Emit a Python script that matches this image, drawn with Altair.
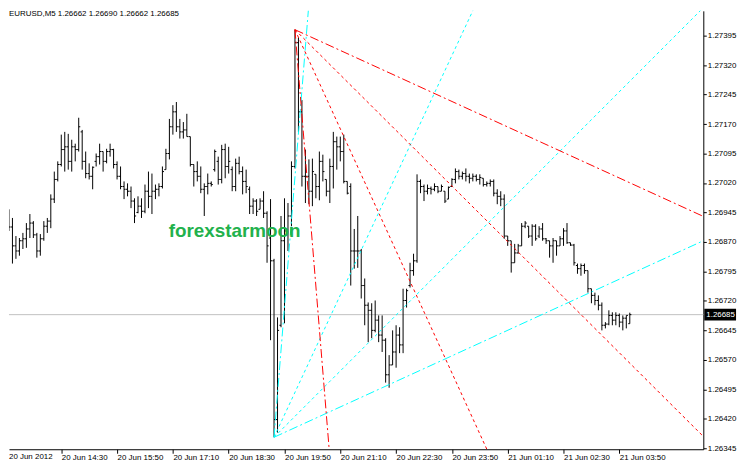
import altair as alt
import pandas as pd

FONT = "Liberation Sans"

# ---- OHLC bars (M5), first bar 20 Jun 13:10 ----
opens = [1.26910, 1.26943, 1.26908, 1.26860, 1.26847, 1.26873, 1.26878, 1.26903, 1.26918, 1.26888,
         1.26847, 1.26878, 1.26910, 1.26923, 1.26979, 1.27029, 1.27067, 1.27105, 1.27112, 1.27075,
         1.27112, 1.27105, 1.27150, 1.27075, 1.27044, 1.27037, 1.27075, 1.27087, 1.27100, 1.27075,
         1.27100, 1.27105, 1.27067, 1.27037, 1.27011, 1.27004, 1.26999, 1.26974, 1.26945, 1.26961,
         1.26948, 1.26999, 1.26986, 1.26999, 1.27004, 1.27011, 1.27054, 1.27095, 1.27163, 1.27201,
         1.27163, 1.27150, 1.27155, 1.27138, 1.27067, 1.27049, 1.27037, 1.27004, 1.27011, 1.27019,
         1.27054, 1.27075, 1.27029, 1.27105, 1.27062, 1.27054, 1.27011, 1.27070, 1.27049, 1.27024,
         1.27004, 1.26961, 1.26974, 1.26953, 1.26974, 1.26943, 1.26880, 1.26822, 1.26418, 1.26658,
         1.26873, 1.26898, 1.26936, 1.27062, 1.27377, 1.27201, 1.27037, 1.27037, 1.26999, 1.27042,
         1.27011, 1.27075, 1.27029, 1.26999, 1.27062, 1.27125, 1.27112, 1.27100, 1.27024, 1.27011,
         1.26847, 1.26847, 1.26847, 1.26759, 1.26709, 1.26696, 1.26645, 1.26671, 1.26633, 1.26620,
         1.26532, 1.26557, 1.26590, 1.26633, 1.26608, 1.26721, 1.26759, 1.26797, 1.26822, 1.27024,
         1.27011, 1.26999, 1.27006, 1.27004, 1.27011, 1.26999, 1.26999, 1.26979, 1.27011, 1.27029,
         1.27049, 1.27037, 1.27044, 1.27037, 1.27032, 1.27037, 1.27029, 1.27032, 1.27016, 1.27019,
         1.27024, 1.26994, 1.26986, 1.26979, 1.26885, 1.26873, 1.26817, 1.26842, 1.26860, 1.26910,
         1.26910, 1.26885, 1.26910, 1.26885, 1.26903, 1.26878, 1.26873, 1.26860, 1.26873, 1.26860,
         1.26878, 1.26898, 1.26868, 1.26862, 1.26810, 1.26802, 1.26810, 1.26797, 1.26751, 1.26734,
         1.26721, 1.26709, 1.26658, 1.26661, 1.26683, 1.26671, 1.26683, 1.26666, 1.26676, 1.26662]

highs = [1.26958, 1.26953, 1.26931, 1.26885, 1.26880, 1.26893, 1.26918, 1.26941, 1.26923, 1.26893,
         1.26890, 1.26923, 1.26931, 1.26991, 1.27049, 1.27075, 1.27143, 1.27150, 1.27145, 1.27130,
         1.27120, 1.27186, 1.27155, 1.27100, 1.27070, 1.27062, 1.27095, 1.27120, 1.27100, 1.27107,
         1.27120, 1.27107, 1.27075, 1.27062, 1.27024, 1.27019, 1.27011, 1.26981, 1.26986, 1.26981,
         1.27016, 1.27049, 1.27044, 1.27016, 1.27019, 1.27062, 1.27107, 1.27183, 1.27218, 1.27226,
         1.27183, 1.27175, 1.27196, 1.27138, 1.27067, 1.27075, 1.27062, 1.27019, 1.27044, 1.27024,
         1.27105, 1.27087, 1.27117, 1.27120, 1.27112, 1.27062, 1.27082, 1.27087, 1.27062, 1.27054,
         1.27011, 1.26981, 1.26979, 1.26981, 1.26999, 1.26948, 1.26979, 1.26827, 1.26678, 1.26936,
         1.26981, 1.26969, 1.27075, 1.27410, 1.27390, 1.27231, 1.27105, 1.27080, 1.27082, 1.27042,
         1.27100, 1.27092, 1.27029, 1.27082, 1.27150, 1.27138, 1.27138, 1.27143, 1.27024, 1.27019,
         1.26903, 1.26936, 1.26852, 1.26777, 1.26716, 1.26714, 1.26721, 1.26683, 1.26683, 1.26625,
         1.26582, 1.26645, 1.26658, 1.26653, 1.26751, 1.26751, 1.26817, 1.26840, 1.27042, 1.27029,
         1.27016, 1.27016, 1.27011, 1.27019, 1.27011, 1.27016, 1.26999, 1.27011, 1.27032, 1.27057,
         1.27054, 1.27049, 1.27057, 1.27044, 1.27044, 1.27042, 1.27042, 1.27032, 1.27024, 1.27029,
         1.27029, 1.27004, 1.26999, 1.26991, 1.26885, 1.26873, 1.26865, 1.26865, 1.26918, 1.26923,
         1.26910, 1.26915, 1.26915, 1.26910, 1.26918, 1.26880, 1.26873, 1.26880, 1.26873, 1.26885,
         1.26905, 1.26918, 1.26868, 1.26865, 1.26815, 1.26815, 1.26815, 1.26797, 1.26751, 1.26741,
         1.26734, 1.26716, 1.26666, 1.26696, 1.26691, 1.26691, 1.26688, 1.26683, 1.26683, 1.26690]

lows = [1.26893, 1.26898, 1.26815, 1.26827, 1.26835, 1.26852, 1.26855, 1.26880, 1.26880, 1.26830,
        1.26835, 1.26873, 1.26893, 1.26905, 1.26969, 1.27024, 1.27062, 1.27049, 1.27054, 1.27049,
        1.27075, 1.27100, 1.27054, 1.27032, 1.27029, 1.27004, 1.27062, 1.27067, 1.27049, 1.27070,
        1.27087, 1.27057, 1.27029, 1.27004, 1.26979, 1.26986, 1.26956, 1.26918, 1.26943, 1.26931,
        1.26943, 1.26956, 1.26941, 1.26979, 1.26986, 1.27006, 1.27054, 1.27080, 1.27143, 1.27150,
        1.27133, 1.27133, 1.27138, 1.27062, 1.27011, 1.27024, 1.26994, 1.26936, 1.26991, 1.27011,
        1.27049, 1.27016, 1.27019, 1.27032, 1.27044, 1.26999, 1.26999, 1.27042, 1.26991, 1.26994,
        1.26941, 1.26941, 1.26936, 1.26953, 1.26931, 1.26817, 1.26620, 1.26373, 1.26385, 1.26653,
        1.26663, 1.26847, 1.26910, 1.27057, 1.27150, 1.27011, 1.26969, 1.26966, 1.26961, 1.26981,
        1.26976, 1.27024, 1.26986, 1.26969, 1.27006, 1.27054, 1.27075, 1.27019, 1.26991, 1.26759,
        1.26802, 1.26804, 1.26726, 1.26658, 1.26615, 1.26625, 1.26640, 1.26615, 1.26590, 1.26512,
        1.26499, 1.26557, 1.26550, 1.26587, 1.26587, 1.26703, 1.26754, 1.26784, 1.26817, 1.26994,
        1.26974, 1.26991, 1.26991, 1.26999, 1.26994, 1.26999, 1.26969, 1.26979, 1.27011, 1.27019,
        1.27029, 1.27029, 1.27024, 1.27019, 1.27024, 1.27024, 1.27016, 1.27011, 1.27011, 1.27011,
        1.26986, 1.26966, 1.26961, 1.26878, 1.26860, 1.26792, 1.26817, 1.26840, 1.26860, 1.26905,
        1.26880, 1.26860, 1.26873, 1.26880, 1.26873, 1.26865, 1.26830, 1.26817, 1.26835, 1.26860,
        1.26860, 1.26865, 1.26860, 1.26810, 1.26789, 1.26784, 1.26789, 1.26741, 1.26714, 1.26709,
        1.26696, 1.26645, 1.26650, 1.26658, 1.26658, 1.26658, 1.26653, 1.26645, 1.26650, 1.26662]

closes = [1.26948, 1.26908, 1.26860, 1.26847, 1.26873, 1.26878, 1.26903, 1.26918, 1.26888, 1.26847,
          1.26878, 1.26910, 1.26923, 1.26979, 1.27029, 1.27067, 1.27105, 1.27112, 1.27075, 1.27112,
          1.27105, 1.27163, 1.27075, 1.27044, 1.27037, 1.27060, 1.27087, 1.27100, 1.27075, 1.27100,
          1.27105, 1.27067, 1.27037, 1.27011, 1.27004, 1.26999, 1.26974, 1.26936, 1.26961, 1.26948,
          1.26999, 1.26986, 1.26999, 1.27004, 1.27011, 1.27049, 1.27095, 1.27163, 1.27201, 1.27163,
          1.27150, 1.27155, 1.27138, 1.27067, 1.27049, 1.27037, 1.27004, 1.27011, 1.27019, 1.27016,
          1.27100, 1.27029, 1.27105, 1.27062, 1.27075, 1.27011, 1.27070, 1.27049, 1.27024, 1.27011,
          1.26961, 1.26974, 1.26948, 1.26974, 1.26943, 1.26860, 1.26822, 1.26418, 1.26645, 1.26873,
          1.26898, 1.26936, 1.27062, 1.27377, 1.27201, 1.27037, 1.27037, 1.26999, 1.27049, 1.27011,
          1.27075, 1.27049, 1.26999, 1.27062, 1.27125, 1.27112, 1.27100, 1.27024, 1.26994, 1.26847,
          1.26847, 1.26847, 1.26759, 1.26709, 1.26696, 1.26645, 1.26671, 1.26633, 1.26620, 1.26532,
          1.26557, 1.26590, 1.26633, 1.26608, 1.26721, 1.26746, 1.26797, 1.26822, 1.27024, 1.27011,
          1.26999, 1.27006, 1.27004, 1.27011, 1.26999, 1.27011, 1.26974, 1.27009, 1.27029, 1.27049,
          1.27037, 1.27044, 1.27037, 1.27032, 1.27037, 1.27029, 1.27034, 1.27016, 1.27019, 1.27024,
          1.26994, 1.26986, 1.26979, 1.26885, 1.26873, 1.26817, 1.26842, 1.26860, 1.26910, 1.26918,
          1.26885, 1.26910, 1.26878, 1.26903, 1.26878, 1.26873, 1.26860, 1.26873, 1.26860, 1.26878,
          1.26898, 1.26868, 1.26862, 1.26817, 1.26802, 1.26810, 1.26797, 1.26751, 1.26734, 1.26721,
          1.26709, 1.26658, 1.26661, 1.26683, 1.26671, 1.26683, 1.26666, 1.26676, 1.26683, 1.26685]

BAR_MINUTES = 5  # M5 timeframe
bar_minutes = [i * BAR_MINUTES for i in range(len(highs))]  # minutes after 20 Jun 13:10

# ---- axis ticks ----
x_tick_minutes = [0, 80, 160, 240, 320, 400, 480, 560, 640, 720, 800, 880]
x_tick_labels = ["20 Jun 2012", "20 Jun 14:30", "20 Jun 15:50", "20 Jun 17:10",
                 "20 Jun 18:30", "20 Jun 19:50", "20 Jun 21:10", "20 Jun 22:30",
                 "20 Jun 23:50", "21 Jun 01:10", "21 Jun 02:30", "21 Jun 03:50"]
y_ticks = [1.27395, 1.27320, 1.27245, 1.27170, 1.27095, 1.27020, 1.26945, 1.26870,
           1.26795, 1.26720, 1.26645, 1.26570, 1.26495, 1.26420, 1.26345]
current_price = 1.26685
header = "EURUSD,M5  1.26662 1.26690 1.26662 1.26685"
watermark = "forexstarmoon"

# ---- Gann fan lines (start/end in minutes and price) ----
fan_id = ["c1", "c2", "c3", "c4", "r1", "r2", "r3", "r4"]
fan_t0 = [385, 385, 385, 385, 415, 415, 415, 415]
fan_p0 = [1.26373, 1.26373, 1.26373, 1.26373, 1.27410, 1.27410, 1.27410, 1.27410]
fan_t1 = [434.5, 672.0, 1000.4, 1009.0, 464.4, 692.0, 1009.0, 1009.0]
fan_p1 = [1.27466, 1.27466, 1.27466, 1.26880, 1.26335, 1.26335, 1.26360, 1.26928]
fan_color = ["cyan", "cyan", "cyan", "cyan", "red", "red", "red", "red"]
fan_style = ["dashdot", "dot", "dot", "dashdot", "dashdot", "dot", "dot", "dashdot"]

W, H = 700, 442
X_DOMAIN = [5.06, 1000.4]
Y_DOMAIN = [1.263425, 1.27458]

df = pd.DataFrame({"t": bar_minutes, "o": opens, "h": highs, "l": lows, "c": closes})
fans = pd.DataFrame({"id": fan_id, "t0": fan_t0, "p0": fan_p0, "t1": fan_t1, "p1": fan_p1,
                     "color": fan_color, "style": fan_style})
one = pd.DataFrame({"k": [0]})

x_scale = alt.Scale(domain=X_DOMAIN, nice=False, zero=False)
y_scale = alt.Scale(domain=Y_DOMAIN, nice=False, zero=False)

label_expr = "[" + ",".join("'%s'" % s for s in x_tick_labels) + "][round(datum.value/80)]"

x_axis = alt.Axis(values=x_tick_minutes[1:], tickCount=40, labelExpr=label_expr,
                  labelAlign="left", labelBaseline="top", tickSize=4, labelPadding=0,
                  grid=False, title=None, domainColor="black", tickColor="black",
                  labelColor="black", labelFont=FONT, labelFontSize=8, labelFlush=False,
                  labelOverlap=False)
y_axis = alt.Axis(orient="right", values=y_ticks, tickCount=40, format=".5f", tickSize=3,
                  labelPadding=1, grid=False, title=None, domainColor="black",
                  tickColor="black", labelColor="black", labelFont=FONT, labelFontSize=8,
                  labelFlush=False, labelOverlap=False)

price_line = alt.Chart(one).mark_rule(color="#c0c0c0", strokeWidth=1).encode(
    y=alt.datum(current_price))

bars = alt.Chart(df).mark_rule(color="black", strokeWidth=1, clip=True).encode(
    x=alt.X("t:Q", scale=x_scale, axis=x_axis),
    y=alt.Y("l:Q", scale=y_scale, axis=y_axis),
    y2="h:Q")

open_ticks = alt.Chart(df).mark_rule(color="black", strokeWidth=1, clip=True,
                                     xOffset=-1.6, x2Offset=0).encode(
    x="t:Q", x2="t:Q", y="o:Q")
close_ticks = alt.Chart(df).mark_rule(color="black", strokeWidth=1, clip=True,
                                      xOffset=0, x2Offset=1.6).encode(
    x="t:Q", x2="t:Q", y="c:Q")

fan_lines = alt.Chart(fans).mark_rule(strokeWidth=1, clip=True).encode(
    x="t0:Q", y="p0:Q", x2="t1:Q", y2="p1:Q",
    color=alt.Color("color:N", scale=alt.Scale(domain=["red", "cyan"],
                                               range=["#ff0000", "#00ffff"]), legend=None),
    strokeDash=alt.StrokeDash("style:N", scale=alt.Scale(domain=["dot", "dashdot"],
                                                          range=[[3, 3], [9, 3, 2, 3]]),
                              legend=None),
    detail="id:N")

header_text = alt.Chart(one).mark_text(align="left", baseline="middle", font=FONT,
                                       fontSize=8, color="black").encode(
    x=alt.value(0), y=alt.value(3), text=alt.value(header))

first_label = alt.Chart(one).mark_text(align="left", baseline="top", font=FONT,
                                       fontSize=8, color="black").encode(
    x=alt.value(0), y=alt.value(H + 4), text=alt.value(x_tick_labels[0]))

wm_text = alt.Chart(one).mark_text(align="left", baseline="middle", font=FONT,
                                   fontSize=19, fontWeight="bold", color="#22b14c").encode(
    x=alt.value(161), y=alt.value(222), text=alt.value(watermark))

price_box = alt.Chart(one).mark_rule(color="black", strokeWidth=12).encode(
    x=alt.value(W + 1), x2=alt.value(W + 33), y=alt.datum(current_price))
price_box_text = alt.Chart(one).mark_text(align="left", baseline="middle", font=FONT,
                                          fontSize=8, color="white").encode(
    x=alt.value(W + 3), y=alt.datum(current_price), text=alt.value("%.5f" % current_price))

chart = alt.layer(price_line, bars, open_ticks, close_ticks, fan_lines, header_text,
                  first_label, wm_text, price_box, price_box_text).properties(
    width=W, height=H, padding=0, background="white"
).configure_view(stroke=None)

chart.save("out.html", embed_options={"renderer": "svg", "actions": False})
